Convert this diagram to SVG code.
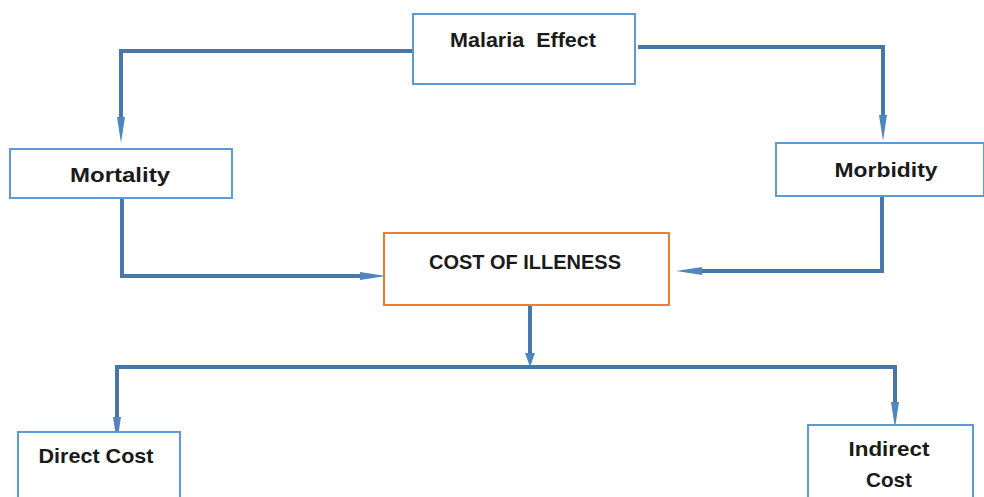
<svg xmlns="http://www.w3.org/2000/svg" width="984" height="497" viewBox="0 0 984 497">
<style>
.box{fill:#fff;stroke:#5B9BD5;stroke-width:2}
.obox{fill:#fff;stroke:#ED7D31;stroke-width:2}
.lbl{font-family:"Liberation Sans",Arial,sans-serif;font-weight:bold;font-size:21px;fill:#1a1a1a;text-anchor:middle}
.con{fill:none;stroke:#4776A8;stroke-width:4;stroke-linejoin:miter}
</style>
<defs>
<marker id="ah" viewBox="0 0 26 8" refX="1" refY="4" markerWidth="26" markerHeight="8" markerUnits="userSpaceOnUse" orient="auto">
<path d="M0,0 L26,4 L0,8 Z" fill="#4F86C0"/>
</marker>
<marker id="ahs" viewBox="0 0 14 10" refX="1" refY="5" markerWidth="14" markerHeight="10" markerUnits="userSpaceOnUse" orient="auto">
<path d="M0,0 L14,5 L0,10 Z" fill="#4F86C0"/>
</marker>
</defs>
<g id="connectors">
<path class="con" d="M413,51 H121 V118" marker-end="url(#ah)"/>
<path class="con" d="M638,47 H883 V116" marker-end="url(#ah)"/>
<path class="con" d="M122,198 V276 H361" stroke-width="5" marker-end="url(#ah)"/>
<path class="con" d="M882,196 V271 H701" marker-end="url(#ah)"/>
<path class="con" d="M530,305 V354" stroke="#4F86C0" stroke-width="6" marker-end="url(#ahs)"/>
<path class="con" d="M530,367 H117 V418" stroke-width="3" marker-end="url(#ah)"/>
<path class="con" d="M530,367 H895 V403" stroke-width="3" marker-end="url(#ah)"/>
</g>
<g id="malaria-effect">
<rect class="box" x="413" y="14" width="222" height="70"/>
<text class="lbl" x="523" y="47" textLength="146" lengthAdjust="spacingAndGlyphs">Malaria&#160; Effect</text>
</g>
<g id="mortality">
<rect class="box" x="10" y="149" width="222" height="49"/>
<text class="lbl" x="120" y="182" textLength="100" lengthAdjust="spacingAndGlyphs">Mortality</text>
</g>
<g id="morbidity">
<rect class="box" x="776" y="143" width="208" height="53"/>
<text class="lbl" x="886" y="177" textLength="103" lengthAdjust="spacingAndGlyphs">Morbidity</text>
</g>
<g id="cost-of-illeness">
<rect class="obox" x="384" y="233" width="285" height="72"/>
<text class="lbl" x="525" y="269" textLength="192" lengthAdjust="spacingAndGlyphs">COST OF ILLENESS</text>
</g>
<g id="direct-cost">
<rect class="box" x="18" y="432" width="162" height="80"/>
<text class="lbl" x="96" y="463" textLength="115" lengthAdjust="spacingAndGlyphs">Direct Cost</text>
</g>
<g id="indirect-cost">
<rect class="box" x="808" y="425" width="165" height="85"/>
<text class="lbl" x="889" y="456" textLength="81" lengthAdjust="spacingAndGlyphs">Indirect</text>
<text class="lbl" x="889" y="487" textLength="46" lengthAdjust="spacingAndGlyphs">Cost</text>
</g>
</svg>
